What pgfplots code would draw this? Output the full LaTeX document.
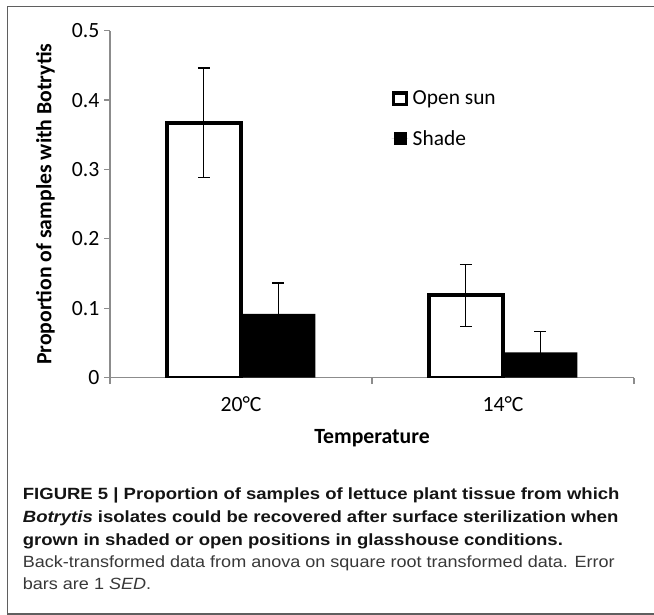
\documentclass[border=0pt]{standalone}
\usepackage{pgfplots}
\pgfplotsset{compat=1.18}
\usepackage{fontspec}
\setmainfont{Carlito}
\newfontfamily\capbold[FakeStretch=1.14]{Liberation Sans}
\newfontfamily\capreg[FakeStretch=1.11]{Liberation Sans}
\definecolor{axgray}{RGB}{140,140,140}
\definecolor{framegray}{RGB}{95,95,95}
\begin{document}
\begin{tikzpicture}[x=1bp,y=1bp]
\useasboundingbox (0,0) rectangle (654,615);
\fill[white] (0,0) rectangle (654,615);
\draw[line width=1.5bp, framegray] (654,608.5) -- (7.3,608.5) -- (7.3,1.2) -- (654,1.2);
\begin{axis}[
  at={(110bp,237.3bp)}, anchor=south west,
  scale only axis, width=524bp, height=347bp,
  xmin=0.5, xmax=2.5, ymin=0, ymax=0.5,
  axis x line*=bottom, axis y line*=left,
  axis line style={-, axgray, line width=1.2bp},
  tick align=outside,
  ytick={0,0.1,0.2,0.3,0.4,0.5},
  yticklabels={0,0.1,0.2,0.3,0.4,0.5},
  /pgf/number format/assume math mode=true,
  major tick length=6bp,
  y tick style={axgray, line width=1.2bp},
  xtick={1,2}, xticklabels={20°C,14°C},
  major x tick style={draw=none},
  minor xtick={0.5,1.5,2.5},
  minor tick length=6.5bp,
  minor x tick style={axgray, line width=1.2bp},
  ticklabel style={font=\fontsize{21.8}{25}\selectfont},
  yticklabel style={xshift=-1bp},
  xticklabel style={yshift=-9bp},
  xlabel={\textbf{Temperature}},
  xlabel style={at={(axis description cs:0.5,-0.175)}, anchor=center, font=\fontsize{21.8}{25}\selectfont},
  ylabel={\textbf{Proportion of samples with Botrytis}},
  ylabel style={at={(axis description cs:-0.123,0.5)}, anchor=center, font=\fontsize{21.8}{25}\selectfont},
  legend style={at={(0.537,0.831)}, anchor=north west, draw=none, fill=none,
    font=\fontsize{21.5}{25}\selectfont, row sep=21bp, inner sep=0pt,
    nodes={inner sep=1.5bp},
    /tikz/every odd column/.append style={column sep=3bp}},
  legend cell align=left,
  error bars/error bar style={black, line width=1.3bp},
  error bars/error mark options={black, line width=1.3bp, mark size=6bp, rotate=90},
]
\addplot[ybar, bar width=0.281, bar shift=0pt, draw=black, line width=4bp, fill=white,
  legend image code/.code={\draw[black, line width=3.5bp, fill=white] (1.75bp,-5.95bp) rectangle (14.85bp,5.95bp);},
  error bars/.cd, y dir=both, y explicit]
  coordinates {(0.858,0.3675) +- (0,0.0787) (1.858,0.1187) +- (0,0.0447)};
\addlegendentry{Open sun}
\addplot[ybar, bar width=0.281, bar shift=0pt, draw=none, fill=black,
  legend image code/.code={\fill[black] (2.3bp,-6.6bp) rectangle (15.6bp,6.7bp); \path (0bp,0bp) -- (16.6bp,0bp);},
  error bars/.cd, y dir=both, y explicit]
  coordinates {(1.143,0.0918) +- (0,0.0447) (2.143,0.0365) +- (0,0.0303)};
\addlegendentry{Shade}
\end{axis}
\begin{scope}[every node/.style={anchor=base west, inner sep=0pt}]
\node[font=\capbold\bfseries\fontsize{16.3}{20}\selectfont, text=black!92] at (22.7,115) {FIGURE 5 | Proportion of samples of lettuce plant tissue from which};
\node[font=\capbold\bfseries\fontsize{16.3}{20}\selectfont, text=black!92] at (22.7,92.8) {\textit{Botrytis} isolates could be recovered after surface sterilization when};
\node[font=\capbold\bfseries\fontsize{16.3}{20}\selectfont, text=black!92] at (22.7,69.5) {grown in shaded or open positions in glasshouse conditions.};
\node[font=\capreg\fontsize{16.3}{20}\selectfont, text=black!78] at (22.7,47) {Back-transformed data from anova on square root transformed data. Error};
\node[font=\capreg\fontsize{16.3}{20}\selectfont, text=black!78] at (22.7,25) {bars are 1 \textit{SED}.};
\end{scope}
\end{tikzpicture}
\end{document}
